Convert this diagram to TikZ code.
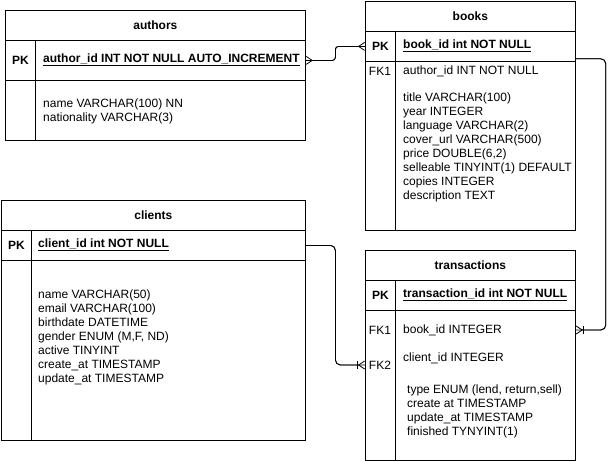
\documentclass[tikz,border=0pt]{standalone}
\usepackage{fontspec}
\setmainfont{Liberation Sans}
\usetikzlibrary{arrows.meta,calc}
\tikzstyle{cell} = [draw=black, line width=0.8pt, rectangle, inner sep=0pt, anchor=north west]
\tikzstyle{tabletitle} = [cell, font=\bfseries]
\tikzstyle{keylabel} = [inner sep=0pt]
\tikzstyle{fieldtext} = [anchor=west, inner sep=0pt, align=left]
\tikzstyle{relation} = [draw=black, line width=0.8pt, rounded corners=5pt, postaction={draw, arrows=-}]
\tikzset{crow/.tip={Straight Barb[reversed, length=6pt, width=8pt]},
    crowbar/.tip={Bar[width=8pt] Straight Barb[reversed, length=6pt, width=8pt]}}

\begin{document}
\fontsize{12}{14}\selectfont
\begin{tikzpicture}[x=1pt, y=-1pt]
    \useasboundingbox (0,0) rectangle (614,461);
    % authors
    \node[tabletitle, minimum width=300pt, minimum height=30pt] (authors) at (5,10) {authors};
    \node[cell, minimum width=30pt, minimum height=40pt, font=\bfseries] (authpkkey) at (5,40) {PK};
    \node[cell, minimum width=270pt, minimum height=40pt] (authpk) at (35,40) {};
    \node[cell, minimum width=30pt, minimum height=60pt] (authkey) at (5,80) {};
    \node[cell, minimum width=270pt, minimum height=60pt] (authbody) at (35,80) {};
    \node[fieldtext] (authpkname) at (43,60) {\underline{\textbf{author\_id INT NOT NULL AUTO\_INCREMENT}}};
    \node[fieldtext] (authfields) at (43,111) {name VARCHAR(100) NN\\nationality VARCHAR(3)};
    % books
    \node[tabletitle, minimum width=210pt, minimum height=30pt] (books) at (365,1) {books};
    \node[cell, minimum width=30pt, minimum height=30pt, font=\bfseries] (bookpkkey) at (365,31) {PK};
    \node[cell, minimum width=180pt, minimum height=30pt] (bookpk) at (395,31) {};
    \node[cell, minimum width=30pt, minimum height=169pt] (bookkey) at (365,61) {};
    \node[cell, minimum width=180pt, minimum height=169pt] (bookbody) at (395,61) {};
    \node[fieldtext] (bookpkname) at (403,46) {\underline{\textbf{book\_id int NOT NULL}}};
    \node[keylabel] (bookfk1key) at (380,71) {FK1};
    \node[fieldtext] (bookfk1) at (403,71) {author\_id INT NOT NULL};
    \node[fieldtext] (bookfields) at (403,147) {title VARCHAR(100)\\year INTEGER\\language VARCHAR(2)\\cover\_url VARCHAR(500)\\price DOUBLE(6,2)\\selleable TINYINT(1) DEFAULT\\copies INTEGER\\description TEXT};
    % clients
    \node[tabletitle, minimum width=304pt, minimum height=30pt] (clients) at (1,200) {clients};
    \node[cell, minimum width=30pt, minimum height=30pt, font=\bfseries] (clientpkkey) at (1,230) {PK};
    \node[cell, minimum width=274pt, minimum height=30pt] (clientpk) at (31,230) {};
    \node[cell, minimum width=30pt, minimum height=180pt] (clientkey) at (1,260) {};
    \node[cell, minimum width=274pt, minimum height=180pt] (clientbody) at (31,260) {};
    \node[fieldtext] (clientpkname) at (38,245) {\underline{\textbf{client\_id int NOT NULL}}};
    \node[fieldtext] (clientfields) at (38,337) {name VARCHAR(50)\\email VARCHAR(100)\\birthdate DATETIME\\gender ENUM (M,F, ND)\\active TINYINT\\create\_at TIMESTAMP\\update\_at TIMESTAMP};
    % transactions
    \node[tabletitle, minimum width=210pt, minimum height=30pt] (transactions) at (365,250) {transactions};
    \node[cell, minimum width=30pt, minimum height=30pt, font=\bfseries] (trpkkey) at (365,280) {PK};
    \node[cell, minimum width=180pt, minimum height=30pt] (trpk) at (395,280) {};
    \node[cell, minimum width=30pt, minimum height=149.5pt] (trkey) at (365,310) {};
    \node[cell, minimum width=180pt, minimum height=149.5pt] (trbody) at (395,310) {};
    \node[fieldtext] (trpkname) at (403,295) {\underline{\textbf{transaction\_id int NOT NULL}}};
    \node[keylabel] (trfk1key) at (380,330) {FK1};
    \node[keylabel] (trfk2key) at (380,365) {FK2};
    \node[fieldtext] (trfk1) at (403,330) {book\_id INTEGER};
    \node[fieldtext] (trfk2) at (403,358) {client\_id INTEGER};
    \node[fieldtext] (trfields) at (407,411) {type ENUM (lend, return,sell)\\create at TIMESTAMP\\update\_at TIMESTAMP\\finished TYNYINT(1)};
    % relations
    \draw[relation, rounded corners=3pt, {crow}-{crow}] (authpk.east) -| ($(authpk.east)!.5!(bookpkkey.west)$) |- (bookpkkey.west);
    \draw[relation, -{crowbar}] ([yshift=3pt]bookpk.south east) -- ++(30,0) |- (trbody.east |- trfk1key);
    \draw[relation, -{crowbar}] (clientpk.east) -| ($(clientpk.east)!.5!(trkey.west |- trfk2key)$) |- (trkey.west |- trfk2key);
\end{tikzpicture}
\end{document}
